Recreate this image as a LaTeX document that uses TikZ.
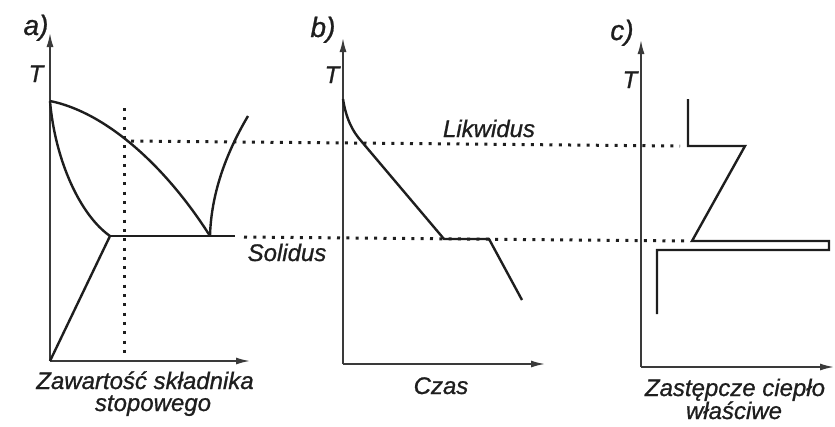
\documentclass[tikz,border=0pt]{standalone}
\usepackage{fontspec}
\setmainfont{Liberation Sans}
\newfontfamily\lblfont{Liberation Sans}[ItalicFeatures={FakeBold=0.9}]
\usetikzlibrary{arrows.meta}
\definecolor{ink}{HTML}{1E1E1E}
\definecolor{axisgray}{HTML}{3A3A3A}
\begin{document}
\begin{tikzpicture}[x=1pt,y=-1pt,
  axis/.style={line width=1.6pt, draw=axisgray, -{Latex[length=14pt,width=7pt]}},
  curve/.style={line width=2.4pt, draw=ink, line join=miter},
  guide/.style={line width=3pt, draw=ink, dash pattern=on 3pt off 6.3pt},
  lbl/.style={font=\fontsize{24}{28}\lblfont\itshape, text=ink, inner sep=0pt, anchor=base},
  tag/.style={font=\fontsize{28}{32}\lblfont\itshape, text=ink, inner sep=0pt, anchor=base}]
\useasboundingbox (0,0) rectangle (835,426);

% ---------- a) phase diagram ----------
\coordinate (aO) at (50,361);
\coordinate (aY) at (50,33);
\coordinate (aX) at (250,361);
\draw[axis] (aO) -- (aY);
\draw[axis] (aO) -- (aX);
\coordinate (aTop) at (50,101);
\coordinate (aEut) at (210,236);
\coordinate (aSol) at (110,236);
\coordinate (aEnd) at (235,236);
\coordinate (aRight) at (248,116);
% concentration guide
\coordinate (aC1) at (124,108);
\coordinate (aC2) at (124,358);
\draw[guide] (aC1) -- (aC2);
% liquidus, solidus, solvus and eutectic line
\draw[curve] (aTop) .. controls (105,112) and (165,165) .. (aEut);
\draw[curve] (aTop) .. controls (55,160) and (80,215) .. (aSol);
\draw[curve] (aSol) -- (aEnd);
\draw[curve] (aEut) .. controls (211,200) and (222,160) .. (aRight);
\draw[curve] (aO) -- (aSol);

% ---------- b) cooling curve ----------
\coordinate (bO) at (343,364);
\coordinate (bY) at (343,38);
\coordinate (bX) at (545,364);
\draw[axis] (bO) -- (bY);
\draw[axis] (bO) -- (bX);

% ---------- c) equivalent specific heat ----------
\coordinate (cO) at (641,367);
\coordinate (cY) at (641,40);
\coordinate (cX) at (834,367);
\draw[axis] (cO) -- (cY);
\draw[axis] (cO) -- (cX);

% ---------- liquidus / solidus levels ----------
\coordinate (lqA) at (131,141);
\coordinate (lqC) at (680,146);
\coordinate (slA) at (244,237);
\coordinate (slC) at (686,241);
\draw[guide] (lqA) -- (lqC);
\draw[guide] (slA) -- (slC);

% cooling curve over the guides
\coordinate (b1) at (343,99);
\coordinate (b2) at (362,142);
\coordinate (b3) at (444,239);
\coordinate (b4) at (489,239);
\coordinate (b5) at (522,300);
\draw[curve] (b1) .. controls (346,118) and (352,131) .. (b2) -- (b3) -- (b4) -- (b5);

% specific heat profile
\coordinate (c1) at (688,99);
\coordinate (c2) at (688,146);
\coordinate (c3) at (745,146);
\coordinate (c4) at (692,241);
\coordinate (c5) at (829,241);
\coordinate (c6) at (829,250);
\coordinate (c7) at (657,250);
\coordinate (c8) at (657,314);
\draw[curve] (c1) -- (c2) -- (c3) -- (c4) -- (c5) -- (c6) -- (c7) -- (c8);

% ---------- labels ----------
\node[tag] (ta) at (36,35) {a)};
\node[tag] (tb) at (323,37) {b)};
\node[tag] (tc) at (622,40) {c)};
\node[lbl] (Ta) at (36,82) {T};
\node[lbl] (Tb) at (332,83) {T};
\node[lbl] (Tc) at (630,88) {T};
\node[lbl] (liq) at (489,137) {Likwidus};
\node[lbl] (sol) at (287,261) {Solidus};
\node[lbl] (xa1) at (145,389) {Zawartość składnika};
\node[lbl] (xa2) at (153,411) {stopowego};
\node[lbl] (xb) at (441,394) {Czas};
\node[lbl] (xc1) at (735,396) {Zastępcze ciepło};
\node[lbl] (xc2) at (734,419) {właściwe};
\end{tikzpicture}
\end{document}
